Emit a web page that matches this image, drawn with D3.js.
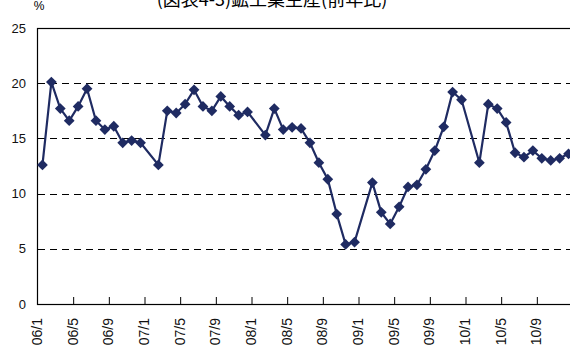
<!DOCTYPE html>
<html>
<head>
<meta charset="utf-8">
<script src="https://cdn.jsdelivr.net/npm/d3@7"></script>
<style>
  body { margin: 0; background: #fff; }
  svg { display: block; }
</style>
</head>
<body>
<script>
// months 06/1 .. 10/12 (January values are not published -> null)
var years = ["06", "07", "08", "09", "10"];
var months = [1, 2, 3, 4, 5, 6, 7, 8, 9, 10, 11, 12];
var categories = [];
years.forEach(function (y) { months.forEach(function (m) { categories.push(y + "/" + m); }); });

var values = [
  12.6, 20.1, 17.7, 16.6, 17.9, 19.5, 16.6, 15.8, 16.1, 14.6, 14.8, 14.6,
  null, 12.6, 17.5, 17.3, 18.1, 19.4, 17.9, 17.5, 18.8, 17.9, 17.1, 17.4,
  null, 15.3, 17.7, 15.8, 16.0, 15.9, 14.6, 12.8, 11.3, 8.15, 5.4, 5.6,
  null, 11.0, 8.3, 7.25, 8.8, 10.6, 10.8, 12.2, 13.9, 16.05, 19.2, 18.5,
  null, 12.8, 18.1, 17.7, 16.45, 13.7, 13.3, 13.9, 13.2, 13.0, 13.2, 13.6
];

var tickLabels = ["06/1", "06/5", "06/9", "07/1", "07/5", "07/9", "08/1", "08/5",
                  "08/9", "09/1", "09/5", "09/9", "10/1", "10/5", "10/9"];
var yTicks = [0, 5, 10, 15, 20, 25];
var gridTicks = [5, 10, 15, 20];

var title = "(図表4-3)鉱工業生産(前年比)";
var navy = "#1f2b62";

var W = 570, H = 351;
var plotL = 38, plotR = 573, plotT = 28, plotB = 304;

var svg = d3.select("body").append("svg")
  .attr("width", W)
  .attr("height", H);

var x = d3.scaleBand().domain(categories).range([plotL, plotR]).padding(0);
var y = d3.scaleLinear().domain([0, 25]).range([plotB, plotT]);

// title (top clipped like the original)
svg.append("text")
  .attr("x", 272)
  .attr("y", 6)
  .attr("text-anchor", "middle")
  .style("font-family", "'Noto Sans CJK JP', sans-serif")
  .style("font-size", "18px")
  .style("fill", "#000")
  .text(title);

svg.append("text")
  .attr("x", 39)
  .attr("y", 10)
  .attr("text-anchor", "middle")
  .style("font-family", "'Liberation Sans', Arial, sans-serif")
  .style("font-size", "12px")
  .text("%");

// dashed grid
svg.selectAll("line.grid")
  .data(gridTicks)
  .enter().append("line")
  .attr("class", "grid")
  .attr("x1", plotL)
  .attr("x2", plotR)
  .attr("y1", function (d) { return Math.round(y(d)) + 0.5; })
  .attr("y2", function (d) { return Math.round(y(d)) + 0.5; })
  .style("stroke", "#000")
  .style("stroke-width", 1)
  .style("stroke-dasharray", "7,5");

// plot border
svg.append("rect")
  .attr("x", plotL - 0.5)
  .attr("y", plotT + 0.5)
  .attr("width", plotR - plotL)
  .attr("height", plotB - plotT)
  .style("fill", "none")
  .style("stroke", "#000")
  .style("stroke-width", 1.2);

// y axis labels
svg.selectAll("text.ylab")
  .data(yTicks)
  .enter().append("text")
  .attr("class", "ylab")
  .attr("x", 26)
  .attr("y", function (d) { return y(d); })
  .attr("dy", "0.36em")
  .attr("text-anchor", "end")
  .style("font-family", "'Liberation Sans', Arial, sans-serif")
  .style("font-size", "13px")
  .style("fill", "#111")
  .text(function (d) { return d; });

// x tick marks (inward) every 4 months
var tickCats = categories.filter(function (c, i) { return i % 4 === 0 && i > 0; });
svg.selectAll("line.xtick")
  .data(tickCats)
  .enter().append("line")
  .attr("class", "xtick")
  .attr("x1", function (d) { return x(d); })
  .attr("x2", function (d) { return x(d); })
  .attr("y1", plotB)
  .attr("y2", plotB - 7)
  .style("stroke", "#000")
  .style("stroke-width", 1);

// x labels, rotated
svg.selectAll("text.xlab")
  .data(tickLabels)
  .enter().append("text")
  .attr("class", "xlab")
  .attr("transform", function (d) { return "translate(" + (x(d) - 1) + "," + 318 + ") rotate(-90)"; })
  .attr("dy", "0.36em")
  .attr("text-anchor", "end")
  .style("font-family", "'Liberation Sans', Arial, sans-serif")
  .style("font-size", "14px")
  .style("fill", "#111")
  .text(function (d) { return d; });

// series
var points = categories.map(function (c, i) { return { cat: c, v: values[i] }; })
  .filter(function (d) { return d.v !== null; });

var line = d3.line()
  .x(function (d) { return x(d.cat) + x.bandwidth() / 2; })
  .y(function (d) { return y(d.v); });

svg.append("path")
  .datum(points)
  .attr("d", line)
  .style("fill", "none")
  .style("stroke", navy)
  .style("stroke-width", 2.2);

var diamond = d3.symbol().type(d3.symbolSquare).size(58);
svg.selectAll("path.marker")
  .data(points)
  .enter().append("path")
  .attr("class", "marker")
  .attr("transform", function (d) {
    return "translate(" + (x(d.cat) + x.bandwidth() / 2) + "," + y(d.v) + ") rotate(45)";
  })
  .attr("d", diamond)
  .style("fill", navy);
</script>
</body>
</html>
